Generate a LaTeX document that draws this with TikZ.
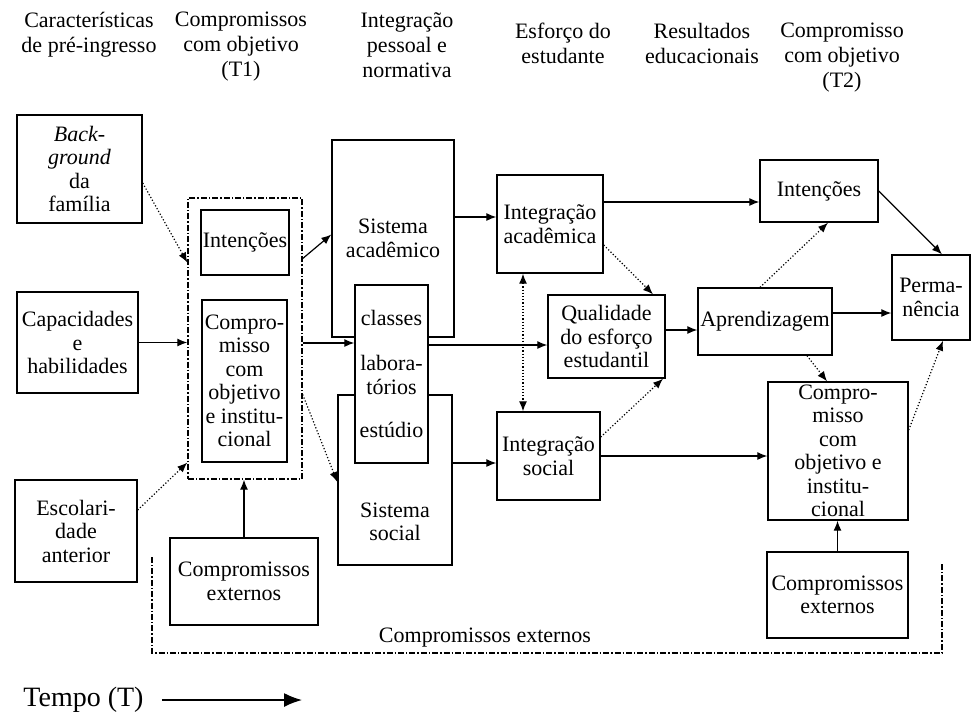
\documentclass[tikz,border=0pt]{standalone}
\usepackage{fontspec}
\setmainfont{Liberation Serif}
\usepackage{tikz}
\usetikzlibrary{arrows.meta}
\tikzstyle{box}=[draw,line width=0.7pt,align=center,inner sep=1pt,font=\fontsize{11}{11.75}\selectfont]
\tikzstyle{head}=[align=center,anchor=north,inner sep=0pt,font=\fontsize{11}{12.5}\selectfont]
\tikzstyle{group}=[line width=0.7pt,densely dashdotted]
\tikzstyle{link}=[line width=0.6pt,-{Latex[length=5pt,width=4pt]}]
\tikzstyle{dlink}=[link,densely dotted]

\begin{document}
\begin{tikzpicture}[x=0.5pt,y=-0.5pt]
\useasboundingbox (0,0) rectangle (977,720);
% column titles
\node[head] (hpre) at (89,12) {Características\\de pré-ingresso};
\node[head] (hobj1) at (241,12) {Compromissos\\com objetivo\\(T1)};
\node[head] (hint) at (407,12) {Integração\\pessoal e\\normativa};
\node[head] (hesf) at (563,23) {Esforço do\\estudante};
\node[head] (hres) at (702,23) {Resultados\\educacionais};
\node[head] (hobj2) at (842,23) {Compromisso\\com objetivo\\(T2)};

% boxes
\node[box,minimum width=62.5pt,minimum height=54pt] (bg) at (79.5,169) {\textit{Back-}\\\textit{ground}\\da\\família};
\node[box,minimum width=60.5pt,minimum height=50.5pt] (cap) at (77.5,342.5) {Capacidades\\e\\habilidades};
\node[box,minimum width=61pt,minimum height=51pt] (esc) at (76,531) {Escolari-\\dade\\anterior};
\node[group,draw,minimum width=57pt,minimum height=140.5pt] (t1) at (245,338.5) {};
\node[box,minimum width=43pt,minimum height=32.5pt] (int1) at (245,242.5) {Intenções};
\node[box,minimum width=42.5pt,minimum height=81pt] (comp1) at (244.5,381) {Compro-\\misso\\com\\objetivo\\e institu-\\cional};
\node[box,minimum width=74pt,minimum height=43.5pt] (ext1) at (244,581.5) {Compromissos\\externos};
\node[box,minimum width=61pt,minimum height=98.5pt] (sacad) at (393,238.5) {Sistema\\acadêmico};
\node[box,minimum width=57pt,minimum height=85pt] (ssoc) at (395,480) {};
\node[font=\fontsize{11}{11.75}\selectfont,align=center] (ssoctxt) at (395,522) {Sistema\\social};
\node[box,fill=white,minimum width=36.5pt,minimum height=89pt] (cls) at (391.5,374) {classes\\[11pt]labora-\\tórios\\[10pt]estúdio};
\node[box,minimum width=53pt,minimum height=49pt] (iacad) at (550,224) {Integração\\acadêmica};
\node[box,minimum width=58.5pt,minimum height=41.5pt] (qual) at (606.5,336.5) {Qualidade\\do esforço\\estudantil};
\node[box,minimum width=51.5pt,minimum height=44pt] (isoc) at (548.5,456) {Integração\\social};
\node[box,minimum width=67pt,minimum height=33.5pt] (apr) at (765,321.5) {Aprendizagem};
\node[box,minimum width=59pt,minimum height=31pt] (int2) at (819,191) {Intenções};
\node[box,minimum width=39pt,minimum height=42.5pt] (perm) at (931,297.5) {Perma-\\nência};
\node[box,minimum width=70pt,minimum height=69pt] (comp2) at (838,451) {Compro-\\misso\\com\\objetivo e\\institu-\\cional};
\node[box,minimum width=70.5pt,minimum height=43pt] (ext2) at (837.5,595) {Compromissos\\externos};

% frame of external commitments
\coordinate (ftl) at (152,557);
\coordinate (fbl) at (152,653);
\coordinate (fbr) at (942,653);
\coordinate (ftr) at (942,563);
\draw[group] (ftl) -- (fbl) -- (fbr) -- (ftr);
\node[font=\fontsize{11}{12}\selectfont] (extall) at (485,638) {Compromissos externos};

% edges and paths
\draw[dlink] ([yshift=-7pt]bg.east) -- ([yshift=38pt]t1.west);
\draw[link] (cap.east) -- (cap.east -| t1.west);
\draw[dlink] ([yshift=10.5pt]esc.east) -- ([yshift=-62pt]t1.west);
\draw[link] (ext1.north) -- (ext1.north |- t1.south);
\draw[link] ([yshift=40pt]t1.east) -- ([yshift=2pt]sacad.west);
\draw[link] ([yshift=-2.25pt]t1.east) -- ([yshift=15.5pt]cls.west);
\draw[dlink] ([yshift=-28pt]t1.east) -- ([yshift=-1pt]ssoc.west);
\draw[link] ([yshift=10.75pt]sacad.east) -- ([yshift=3.5pt]iacad.west);
\draw[link] ([yshift=14.5pt]cls.east) -- ([yshift=-4.25pt]qual.west);
\draw[link] ([yshift=8.5pt]ssoc.east) -- ([yshift=-3.5pt]isoc.west);
\draw[dlink,{Latex[length=5pt,width=4pt]}-{Latex[length=5pt,width=4pt]}] ([xshift=-13.5pt]iacad.south) -- ([xshift=-12.75pt]isoc.north);
\draw[dlink] ([yshift=-10.5pt]iacad.east) -- ([xshift=23.25pt]qual.north);
\draw[dlink] ([yshift=9.5pt]isoc.east) -- ([xshift=28.25pt]qual.south);
\draw[link] ([yshift=11pt]iacad.east) -- ([yshift=-5.5pt]int2.west);
\draw[link] ([yshift=3.25pt]qual.east) -- ([yshift=-4.25pt]apr.west);
\draw[link] (isoc.east) -- (isoc.east -| comp2.west);
\draw[dlink] ([xshift=-2.5pt]apr.north) -- ([xshift=4.5pt]int2.south);
\draw[link] (int2.east) -- ([xshift=5.5pt]perm.north);
\draw[link] ([yshift=4.25pt]apr.east) -- ([yshift=-7.75pt]perm.west);
\draw[dlink] ([xshift=21pt]apr.south) -- ([xshift=-5.5pt]comp2.north);
\draw[dlink] ([yshift=10.5pt]comp2.east) -- ([xshift=6pt]perm.south);
\draw[link] (ext2.north) -- (ext2.north |- comp2.south);

% time axis
\node[font=\fontsize{14}{16}\selectfont,inner sep=0pt] (tempo) at (83.5,700) {Tempo (T)};
\coordinate (tend) at (302,700);
\draw[line width=0.7pt,-{Latex[length=9pt,width=7pt]}] ([xshift=9pt]tempo.east) -- (tend);
\end{tikzpicture}
\end{document}
